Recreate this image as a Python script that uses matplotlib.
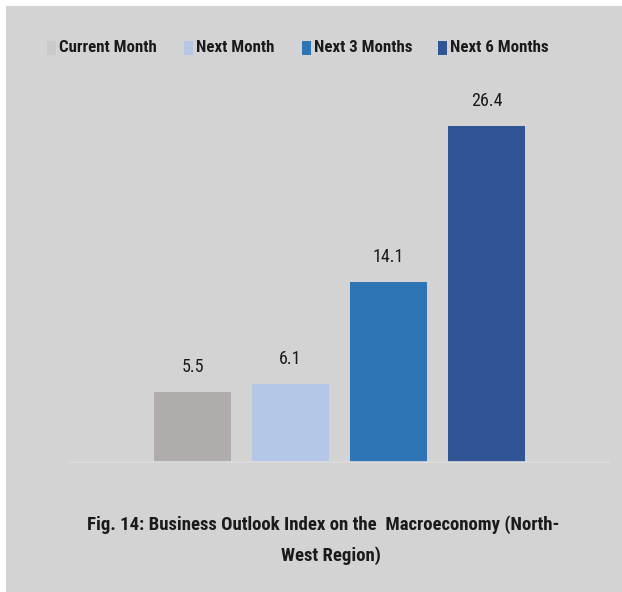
import matplotlib
matplotlib.use("Agg")
import matplotlib.pyplot as plt
from matplotlib import font_manager
from matplotlib.patches import Rectangle

periods = ["Current Month", "Next Month", "Next 3 Months", "Next 6 Months"]
index_values = [5.5, 6.1, 14.1, 26.4]
bar_colors = ["#afacab", "#b4c7e7", "#2e75b6", "#2f5597"]
# the first legend key is much paler than its bar in the original
key_colors = ["#cbcaca", "#b4c7e7", "#2e75b6", "#2f5597"]
caption_lines = ["Fig. 14: Business Outlook Index on the  Macroeconomy (North-", "West Region)"]

BG = "#d3d3d3"
TXT = "#1a1a1a"

# narrow, Calibri-like face if one is around
installed = {f.name for f in font_manager.fontManager.ttflist}
FONT = "DejaVu Sans"
for name in ["Liberation Sans Narrow", "Roboto Condensed", "Open Sans Condensed", "Lato", "Liberation Sans"]:
	if name in installed:
		FONT = name
		break
plt.rcParams["font.family"] = [FONT, "DejaVu Sans"]

fig = plt.figure(figsize=(6.22, 5.92), dpi=100)
fig.patch.set_facecolor("white")
# grey panel, thin white strip left on the top and left edges
fig.add_artist(Rectangle((6 / 622, 0), 1, 1 - 6 / 592, transform=fig.transFigure,
	facecolor=BG, edgecolor="none", zorder=0))

ax = fig.add_axes([70 / 622, 1 - 462 / 592, 539 / 622, 382 / 592])
ax.set_facecolor("none")

x = list(range(len(periods)))
bars = ax.bar(x, index_values, width=0.786, color=bar_colors, zorder=2)
for b, v in zip(bars, index_values):
	ax.annotate("{:.1f}".format(v), (b.get_x() + b.get_width() / 2, v),
		xytext=(0, 18), textcoords="offset points", ha="center", va="center",
		fontsize=13, color=TXT)

ax.set_xlim(-1.25, 4.25)
ax.set_ylim(0, 30)
for side in ["top", "right", "left"]:
	ax.spines[side].set_visible(False)
ax.spines["bottom"].set_color("#dcdcdc")
ax.spines["bottom"].set_linewidth(1.2)
ax.set_xticks([])
ax.set_yticks([])

# legend row, laid out as in the original
key_left = [47, 184, 302, 438]
for px, p, c in zip(key_left, periods, key_colors):
	fig.add_artist(Rectangle((px / 622, 1 - 55 / 592), 9 / 622, 14 / 592,
		transform=fig.transFigure, facecolor=c, edgecolor="none"))
	fig.text((px + 12) / 622, 1 - 47.5 / 592, p, ha="left", va="center",
		fontsize=12.2, fontweight="bold", color=TXT)

fig.text(323 / 622, 1 - 525 / 592, caption_lines[0], ha="center", va="center",
	fontsize=13.5, fontweight="bold", color=TXT)
fig.text(331 / 622, 1 - 556 / 592, caption_lines[1], ha="center", va="center",
	fontsize=13.5, fontweight="bold", color=TXT)

fig.savefig("out.png", dpi=100, facecolor=fig.get_facecolor())
